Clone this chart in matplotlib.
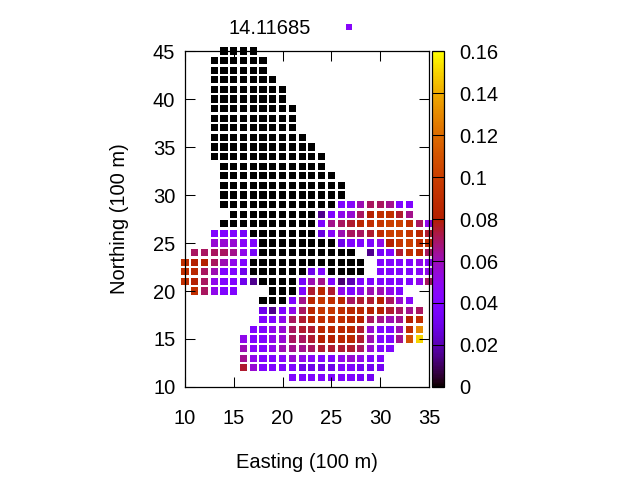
# Heat map of northing/easting grid, gnuplot style

import matplotlib
matplotlib.use("Agg")
import matplotlib.pyplot as plt
from matplotlib.lines import Line2D

plt.rcParams['font.family'] = ['Liberation Sans', 'DejaVu Sans']

# values are in hundredths, None = no point at that grid position
n45 = [0, 0, 0, 0]
n44 = [0] * 6
n43 = [0] * 6
n42 = [0] * 7
n41 = [0] * 8
n40 = [0] * 8
n39 = [0] * 9
n38 = [0] * 9
n37 = [0] * 9
n36 = [0] * 10
n35 = [0] * 11
n34 = [0] * 12
n33 = [0] * 11
n32 = [0] * 12
n31 = [0] * 13
n30 = [0] * 13
n29 = [0] * 12 + [4, 4.5, 6, 7, 7, 6.5, 4, 4]
n28 = [0] * 9 + [1.5, 4, 5, 5.5, 7, 8, 9, 9, 7.5, 6.5]
n27 = [0] * 10 + [4, 6.5, 7, 7.5, 8.5, 9, 9.5, 10, 10, 9, 7, 5]
n26 = [4, 4, 4, 3.5] + [0] * 7 + [2.8, 4.5, 6, 7, 7, 7.5, 9, 10, 10, 9.5, 8.5, 7.5]
n25 = [5.5, 5.5, 5.5, 4.5, 4] + [0] * 8 + [3, 4, 4, 4, 5, 8, 9.5, 10, 9, 9]
n24 = [7, 7, 7, 7, 6.5, 5, 3.5] + [0] * 10 + [None, 1.5, 3.5, 4, 7.5, 9, 8.5, 7]
n23 = [9, 8, 8, 7, 6, 5, 4] + [0] * 12 + [None, 4, 4, 4, 4, 5, 4.5]
n22 = [9, 8.5, 7, 6, 4, 4, 3] + [0] * 6 + [3, 4, 0, 0, 0, 0, None, 4, 4, 4, 4, 4.5, 5]
n21 = [9, 8, 7, 5, 4, 4, 3, 1.5, 0, 0, 0, 0, 3.5, 6, 6.5, 4, 1.2, 2, 4, 4, 4, 4, 4, 4, 5, 7]
n20 = [9, 7, 5, 4, 4, None, None, None, 0, 0, 0, 4, 7.5, 8.5, 7.5, 5, 4, 5, 6, 6, 5, 4]
n19 = [0, 0, 0, 4, 6.5, 8.5, 9.5, 9, 8.5, 7, 7.5, 7.5, 8, 7, 5.5, 4.5]
n18 = [3, 1.5, 4, 5, 7, 8.5, 9.5, 9.5, 9, 8.5, 8.5, 8, 8, 7.5, 7, 6.5, 7]
n17 = [4, 4, 5, 7, 7.5, 8.5, 9, 9, 9, 8.5, 8, 7, 6.5, 6, 6.5, 8, 9]
n16 = [4, 4, 5, 5.5, 7, 7.5, 7.5, 8.5, 8.5, 8.5, 8.5, 7.5, 5.5, 4, 4, 6, 9, 13]
n15 = [5, 4, 4, 5, 5.5, 7, 7, 7.5, 8, 8, 8.5, 8.5, 7.5, 6, 4, 4, 6.5, 11, 15]
n14 = [6, 4.5, 4, 5, 6, 6.5, 6.5, 7, 7.5, 7.5, 7.5, 7.5, 7, 5.5, 4, 4]
n13 = [6.5, 5, 4, 4, 4.5, 5.5, 5, 4.5, 4, 4, 5, 5.5, 5, 4, 4]
n12 = [7.5, 5.5, 4, 4, 4, 4, 3, 3, 3, 3, 4, 4, 3.3, 3.3, 3.3]
n11 = [4, 4, 4, 4, 4, 4, 4, 3.5, 3.3]

northing = [45, 44, 43, 42, 41, 40, 39, 38, 37, 36, 35, 34, 33, 32, 31, 30, 29, 28,
            27, 26, 25, 24, 23, 22, 21, 20, 19, 18, 17, 16, 15, 14, 13, 12, 11]
first_easting = [14, 13, 13, 13, 13, 13, 13, 13, 13, 13, 13, 13, 14, 14, 14, 14, 14, 15,
                 14, 13, 13, 11, 10, 10, 10, 11, 18, 18, 18, 17, 16, 16, 16, 16, 21]
rows = [n45, n44, n43, n42, n41, n40, n39, n38, n37, n36, n35, n34, n33, n32, n31, n30, n29, n28,
        n27, n26, n25, n24, n23, n22, n21, n20, n19, n18, n17, n16, n15, n14, n13, n12, n11]

x_ticks = [10, 15, 20, 25, 30, 35]
y_ticks = [10, 15, 20, 25, 30, 35, 40, 45]
cb_ticks = [0, 0.02, 0.04, 0.06, 0.08, 0.1, 0.12, 0.14, 0.16]
cb_labels = ['0', '0.02', '0.04', '0.06', '0.08', '0.1', '0.12', '0.14', '0.16']
key_label = "14.11685"
key_value = 0.045

xs, ys, zs = [], [], []
for north, start, row in zip(northing, first_easting, rows):
    for i, val in enumerate(row):
        if val is None:
            continue
        xs.append(start + i)
        ys.append(north)
        zs.append(val / 100)

W, H = 640, 480
fig = plt.figure(figsize=(W / 100, H / 100), dpi=100)
ax = fig.add_axes([185 / W, 1 - 387 / H, 244 / W, 336 / H])
cmap = plt.get_cmap('gnuplot', 256)

sc = ax.scatter(xs, ys, c=zs, cmap=cmap, vmin=0, vmax=0.16, marker='s', s=27,
                linewidths=0, clip_on=False, zorder=1)
ax.set_xlim(10, 35)
ax.set_ylim(10, 45)
ax.set_xticks(x_ticks)
ax.set_yticks(y_ticks)
ax.tick_params(axis='x', direction='in', length=7.5, width=0.75, top=True,
               labelsize=14.5, pad=16)
ax.tick_params(axis='y', direction='in', length=7.5, width=0.75, right=True,
               labelsize=14.5, pad=7)
for spine in ax.spines.values():
    spine.set_linewidth(0.9)
ax.set_xlabel("Easting (100 m)", fontsize=14.5, labelpad=18)
ax.set_ylabel("Northing (100 m)", fontsize=14.5, labelpad=17)

# colour box
cax = fig.add_axes([431.5 / W, 1 - 387 / H, 12 / W, 336 / H])
cb = fig.colorbar(sc, cax=cax)
cb.set_ticks(cb_ticks)
cb.set_ticklabels(cb_labels)
cax.tick_params(direction='in', length=9, width=0.75, labelsize=14.5, pad=11, color='black')
cb.outline.set_linewidth(0.9)

# key above the plot
handle = Line2D([], [], linestyle='none', marker='s', markersize=5, markeredgewidth=0,
                color=cmap(key_value / 0.16))
fig.legend([handle], [key_label], loc='center', bbox_to_anchor=(302.5 / W, 1 - 28.5 / H),
           frameon=False, fontsize=14.5, markerfirst=False, handletextpad=0.5, handlelength=2.78)

fig.savefig("out.png", dpi=100)
